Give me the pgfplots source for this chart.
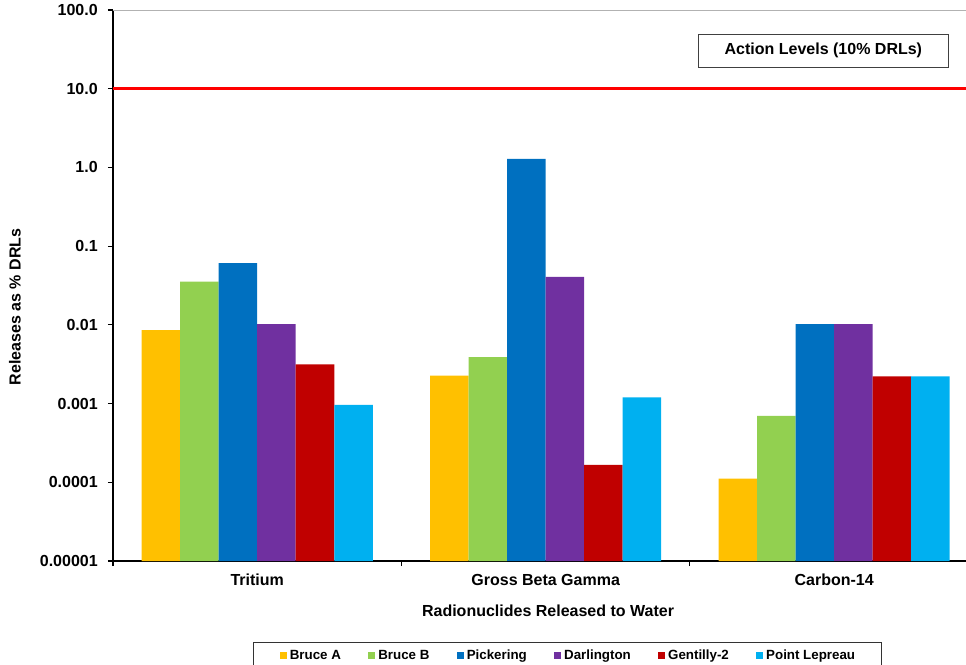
\documentclass[border=0pt]{standalone}
\usepackage{fontspec}
\setmainfont{Liberation Sans}
\usepackage{pgfplots}
\usepackage{pgfplotstable}
\pgfplotsset{compat=1.18}
\definecolor{cBA}{HTML}{FFC000}
\definecolor{cBB}{HTML}{92D050}
\definecolor{cPK}{HTML}{0070C0}
\definecolor{cDL}{HTML}{7030A0}
\definecolor{cGT}{HTML}{C00000}
\definecolor{cPL}{HTML}{00B0F0}
\pgfplotstableread{
x ba bb pk dl gt pl
0 0.0086 0.0353 0.061 0.0102 0.00315 0.00096
1 0.00226 0.0039 1.28 0.0406 0.000166 0.0012
2 0.000111 0.0007 0.0102 0.0102 0.00222 0.00222
}\datatable
\pgfplotsset{sq/.style={legend image code/.code={\fill[##1] (0pt,-2.625pt) rectangle (5.25pt,2.625pt);}}}
\begin{document}
\begin{tikzpicture}
\useasboundingbox (0,0) rectangle (724.5pt,498pt);
\begin{axis}[
 at={(84.75pt,77.25pt)}, anchor=south west,
 scale only axis, width=639.75pt, height=413.25pt,
 ymode=log, ymin=1e-5, ymax=100, log origin=infty,
 xmin=-0.5, xmax=2.457, enlargelimits=false,
 ybar=0pt, bar width=0.1335,
 axis x line*=bottom, axis y line*=left,
 axis line style={-, black, line width=1pt},
 ytick={1e-5,1e-4,1e-3,1e-2,1e-1,1,10,100},
 yticklabels={0.00001,0.0001,0.001,0.01,0.1,1.0,10.0,100.0},
 yminorticks=false,
 xtick={0,1,2}, xticklabels={Tritium,Gross Beta Gamma,Carbon-14},
 minor xtick={-0.5,0.5,1.5},
 major x tick style={draw=none},
 tick align=outside, major tick length=3.75pt, minor tick length=3.75pt,
 tick style={black, line width=0.8pt},
 tick label style={font=\fontsize{12}{14.4}\selectfont\bfseries},
 yticklabel style={anchor=east, inner sep=0pt, xshift=-7.5pt},
 xticklabel style={anchor=north, inner sep=0pt, yshift=-6pt},
 every axis y label/.style={at={(rel axis cs:-0.1149,0.461)}, rotate=90, anchor=center, font=\fontsize{12}{14.4}\selectfont\bfseries},
 every axis x label/.style={at={(rel axis cs:0.51,-0.0907)}, anchor=center, font=\fontsize{12}{14.4}\selectfont\bfseries},
 ylabel={Releases as \% DRLs},
 xlabel={Radionuclides Released to Water},
 legend style={at={(0.5328,-0.1461)}, anchor=north, legend columns=6,
   draw=black!80, line width=0.75pt,
   font=\fontsize{10}{12}\selectfont\bfseries,
   inner xsep=19.5pt, inner ysep=5.8pt,
   /tikz/every even column/.append style={column sep=20.5pt},
   /tikz/every odd column/.append style={column sep=2.25pt},
   nodes={inner sep=0pt}},
]
\addplot[fill=cBA, draw=none, sq] table[x=x,y=ba]{\datatable};
\addplot[fill=cBB, draw=none, sq] table[x=x,y=bb]{\datatable};
\addplot[fill=cPK, draw=none, sq] table[x=x,y=pk]{\datatable};
\addplot[fill=cDL, draw=none, sq] table[x=x,y=dl]{\datatable};
\addplot[fill=cGT, draw=none, sq] table[x=x,y=gt]{\datatable};
\addplot[fill=cPL, draw=none, sq] table[x=x,y=pl]{\datatable};
\addplot[forget plot, sharp plot, draw=red, line width=2.25pt] coordinates {(-0.5,10) (2.457,10)};
\legend{Bruce A, Bruce B, Pickering, Darlington, Gentilly-2, Point Lepreau}
\draw[gray!60, line width=0.8pt] (rel axis cs:0,1) -- (rel axis cs:1,1);
\node[draw=black!75, line width=0.75pt, minimum width=188pt, minimum height=24.5pt, inner sep=0pt, font=\fontsize{12}{14.4}\selectfont\bfseries] at (rel axis cs:0.8328,0.9261) {Action Levels (10\% DRLs)};
\end{axis}
\end{tikzpicture}
\end{document}
